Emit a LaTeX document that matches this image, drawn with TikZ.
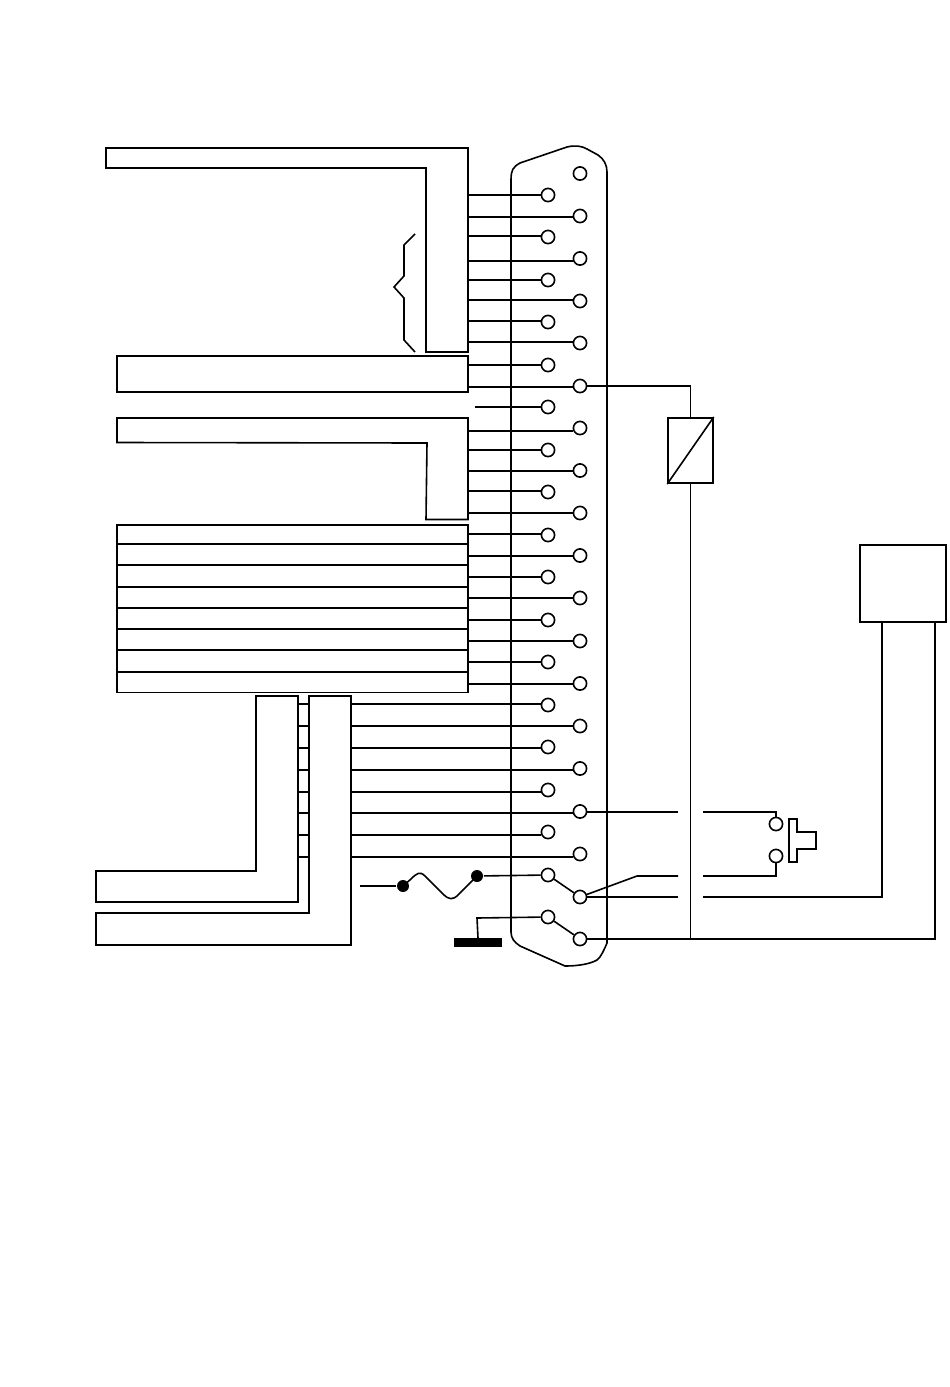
\documentclass[tikz,border=0pt]{standalone}
\begin{document}
\begin{tikzpicture}[x=1pt,y=-1pt,line width=1.6pt,line join=miter,
  pin/.style={circle,draw,fill=white,inner sep=0pt,minimum size=13.2pt},
  rowbox/.style={draw,anchor=north west,inner sep=0pt,outer sep=0pt,minimum width=351pt},
  dot/.style={circle,fill=black,inner sep=0pt,minimum size=12pt}]
\useasboundingbox (0,0) rectangle (950,1387);
\fill[white] (0,0) rectangle (950,1387);
% connector shell
\draw (511,180) .. controls (511,170) and (513,167) .. (520,163)
  -- (567,147) .. controls (575,145) and (582,146) .. (587,149)
  -- (598,155) .. controls (604,159) and (607,165) .. (607,172)
  -- (607,943) .. controls (604,950) and (601,957) .. (597,960)
  .. controls (590,964) and (578,966) .. (565,966)
  -- (520,946) .. controls (514,942) and (511,938) .. (511,932) -- cycle;
% pins
\foreach \n/\y in {0/195,1/237,2/280,3/322,4/365,5/407,6/450,7/492,8/535,9/577,10/620,11/662,12/705,13/747,14/790,15/832,16/875,17/917}
  \node[pin] (L\n) at (548,\y) {};
\foreach \n/\y in {0/173.5,1/216,2/258.5,3/301,4/343,5/386,6/428,7/470.5,8/513,9/555.5,10/598,11/641,12/683.5,13/726,14/768.5,15/811.5,16/854,17/897,18/939}
  \node[pin] (R\n) at (580,\y) {};
% harness boxes
\draw (106,148) -- (468,148) -- (468,352) -- (426,352) -- (426,168) -- (106,168) -- cycle;
\draw (415,234) -- (404,245) -- (404,276) -- (394,287) -- (404,298) -- (404,340) -- (415,352);
\node[rowbox,minimum height=36pt] (sigA) at (117,356) {};
\draw (117,418) -- (468,418) -- (468,519.5) -- (426,519.5) -- (427,443) -- (117,442.5) -- cycle;
\foreach \n/\t/\h in {1/525/19,2/544/21,3/565/22,4/587/21,5/608/21,6/629/21,7/650/22,8/672/20.5}
  \node[rowbox,minimum height=\h pt] (row\n) at (117,\t) {};
\draw (96,871) -- (256,871) -- (256,696) -- (298,696) -- (298,902) -- (96,902) -- cycle;
\draw (96,913) -- (309,913) -- (309,696) -- (351,696) -- (351,945) -- (96,945) -- cycle;
\coordinate (edgeA) at (468,0);
\coordinate (edgeB) at (351,0);
\coordinate (edgeC) at (475,0);
% wires to pins
\foreach \p/\y in {L0/195,R1/217,L1/236,R2/261,L2/280,R3/300,L3/321,R4/342,L4/365,R5/387,R6/431,L6/450,R7/471,L7/491,R8/513,L8/534,R9/556,L9/577,R10/598,L10/620,R11/641,L11/662,R12/684}
  \draw (edgeA |- 0,\y) -- (\p.west |- 0,\y);
\draw (edgeC |- 0,407) -- (L5.west |- 0,407);
\foreach \p/\y in {L12/704,R13/726,L13/748,R14/770,L14/792,R15/813,L15/835,R16/857}{
  \draw (edgeB |- 0,\y) -- (\p.west |- 0,\y);
  \draw (298,\y) -- (309,\y);
}
% jumpers
\draw (L16) -- (R17);
\draw (L17) -- (R18);
% fuse
\node[dot] (fuseA) at (403,886) {};
\node[dot] (fuseB) at (477,876) {};
\coordinate (fuseIn) at (360,886);
\draw (fuseIn) -- (fuseA);
\draw (fuseA.center) -- (411,879) .. controls (417,873) and (420,871) .. (425,876)
  -- (443,894) .. controls (449,900) and (453,900) .. (458,895) -- (fuseB.center);
\draw (fuseB) -- (L16);
% ground
\node[fill=black,inner sep=0pt,outer sep=0pt,minimum width=48pt,minimum height=9pt] (gnd) at (478,942.5) {};
\draw (gnd.north) -- (477,918) -- (L17);
% relay coil
\node[draw,inner sep=0pt,minimum width=45pt,minimum height=65.5pt] (coil) at (690.5,450.5) {};
\draw (coil.south west) -- (coil.north east);
\draw (R5) -- (coil.north |- R5) -- (coil.north);
\draw (coil.south) -- (coil.south |- R18);
% external unit
\node[draw,inner sep=0pt,minimum width=86pt,minimum height=77pt] (unit) at (903,583.5) {};
\coordinate (unitA) at (882,622);
\coordinate (unitB) at (935,622);
\coordinate (gapL) at (678,0);
\coordinate (gapR) at (703,0);
\draw (R18) -- (unitB |- R18) -- (unitB);
\draw (unitA) -- (882,897) -- (gapR |- 0,897);
\draw (R17) -- (gapL |- 0,897);
\draw (R17) -- (637,876) -- (gapL |- 0,876);
% push button
\node[pin] (swA) at (776,824) {};
\node[pin] (swB) at (776,856) {};
\draw (R15.east |- 0,812) -- (gapL |- 0,812);
\draw (gapR |- 0,812) -- (swA.north |- 0,812) -- (swA.north);
\draw (gapR |- 0,876) -- (swB.south |- 0,876) -- (swB.south);
\draw (789,819) -- (797,819) -- (797,832) -- (816,832) -- (816,849) -- (797,849) -- (797,862) -- (789,862) -- cycle;
\end{tikzpicture}
\end{document}
